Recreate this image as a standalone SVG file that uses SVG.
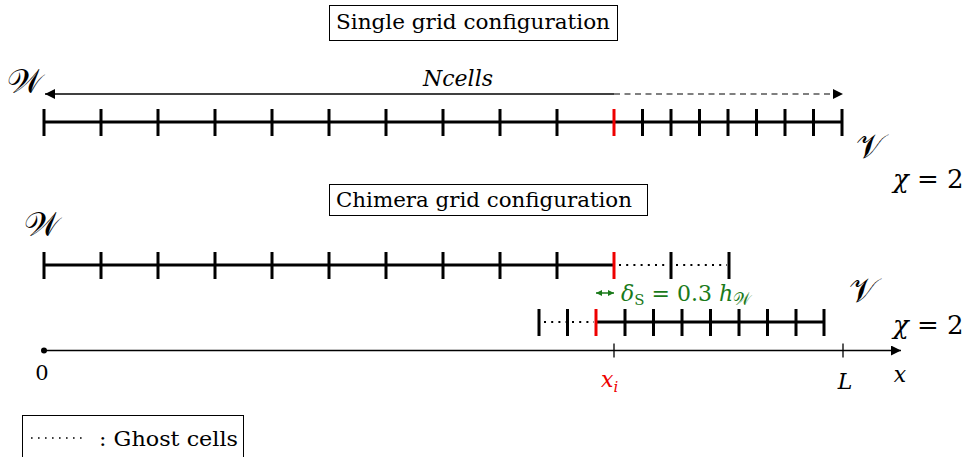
<svg xmlns="http://www.w3.org/2000/svg" width="976" height="457" viewBox="0 0 976 457">
<style>
.t{font-family:'DejaVu Serif','Liberation Serif',serif;font-size:21px;fill:#000}
.m{font-family:'DejaVu Serif','Liberation Serif',serif;font-style:italic;font-size:22px;fill:#000}
.cal{font-family:'DejaVu Serif','Liberation Serif',serif;font-size:34px;fill:#000}
.chi{font-family:'DejaVu Serif','Liberation Serif',serif;font-size:26px;fill:#000}
.bar{stroke:#000;stroke-width:3;fill:none}
.red{stroke:#e00;stroke-width:3;fill:none}
.dot{stroke:#000;stroke-width:2;stroke-dasharray:2 5.2;fill:none}
.thin{stroke:#000;stroke-width:1.3;fill:none}
.box{fill:#fff;stroke:#000;stroke-width:1}
</style>
<defs>
<marker id="ah" viewBox="0 0 10 10" refX="10" refY="5" markerWidth="14" markerHeight="10" markerUnits="userSpaceOnUse" orient="auto-start-reverse">
<path d="M0,0 L10,5 L0,10 z" fill="#000"/>
</marker>
<marker id="gh" viewBox="0 0 10 10" refX="10" refY="5" markerWidth="7" markerHeight="6" markerUnits="userSpaceOnUse" orient="auto-start-reverse">
<path d="M0,0 L10,5 L0,10 z" fill="#1a7a1a"/>
</marker>
</defs>

<g id="single-title">
<rect class="box" x="329.5" y="5.5" width="288" height="35"/>
<text class="t" x="336" y="29" textLength="274" lengthAdjust="spacingAndGlyphs">Single grid configuration</text>
</g>

<g id="single-grid">
<path class="bar" d="M44,122 H843 M44,109 V136 M101,109 V136 M158,109 V136 M215,109 V136 M272,109 V136 M329,109 V136 M386,109 V136 M443,109 V136 M500,109 V136 M557,109 V136 M642.5,109 V136 M671,109 V136 M699.5,109 V136 M728,109 V136 M756.5,109 V136 M785,109 V136 M813.5,109 V136 M842,109 V136"/>
<path class="red" d="M614,109 V136"/>
<text class="cal" x="7" y="93">𝒲</text>
<text class="cal" x="856" y="158">𝒱</text>
<text class="chi" x="893" y="188"><tspan font-style="italic">χ</tspan> = 2</text>
</g>

<g id="connectors">
<path class="thin" d="M614,94 H45" marker-end="url(#ah)" stroke-width="1.2"/>
<path d="M614,94 H843" stroke="#000" stroke-width="1.2" stroke-dasharray="6 4.5" fill="none" marker-end="url(#ah)"/>
<text class="m" x="458" y="86" text-anchor="middle">Ncells</text>
</g>

<g id="chimera-title">
<rect class="box" x="329.5" y="184.5" width="318" height="31"/>
<text class="t" x="336" y="207" textLength="296" lengthAdjust="spacingAndGlyphs">Chimera grid configuration</text>
</g>

<g id="grid-W">
<path class="bar" d="M44,265 H614 M44,252 V279 M101,252 V279 M158,252 V279 M215,252 V279 M272,252 V279 M329,252 V279 M386,252 V279 M443,252 V279 M500,252 V279 M557,252 V279 M671,252 V279 M729,252 V279"/>
<path class="dot" d="M619,265 H669 M676,265 H727"/>
<path class="red" d="M614,252 V279"/>
<text class="cal" x="24" y="236">𝒲</text>
</g>

<g id="delta">
<path d="M596,293 H614" stroke="#1a7a1a" stroke-width="1.5" fill="none" marker-start="url(#gh)" marker-end="url(#gh)"/>
<text x="621" y="301" font-family="'DejaVu Serif','Liberation Serif',serif" font-size="22" fill="#1a7a1a"><tspan font-style="italic">δ</tspan><tspan font-size="15" dy="4">S</tspan><tspan dy="-4"> = 0.3 </tspan><tspan font-style="italic">h</tspan><tspan font-size="17" dy="4">𝒲</tspan></text>
</g>

<g id="grid-V">
<path class="bar" d="M596,322 H824 M539,309 V336 M567.5,309 V336 M625,309 V336 M653.5,309 V336 M682,309 V336 M710.5,309 V336 M739,309 V336 M767.5,309 V336 M796,309 V336 M824,309 V336"/>
<path class="dot" d="M544,322 H566 M572,322 H594"/>
<path class="red" d="M596,309 V336"/>
<text class="cal" x="849" y="302">𝒱</text>
<text class="chi" x="893" y="334"><tspan font-style="italic">χ</tspan> = 2</text>
</g>

<g id="axis">
<circle cx="44" cy="350.5" r="3" fill="#000"/>
<path class="thin" d="M44,350.5 H901" marker-end="url(#ah)" stroke-width="1.3"/>
<path class="thin" d="M614,343.5 V357.5 M843,343.5 V357.5" stroke-width="1"/>
<text class="t" x="42" y="380" text-anchor="middle">0</text>
<text class="m" x="601" y="387" style="fill:#e00">x<tspan font-size="15" dy="5">i</tspan></text>
<text class="m" x="845" y="389" text-anchor="middle">L</text>
<text class="m" x="900" y="382" text-anchor="middle">x</text>
</g>

<g id="legend">
<rect class="box" x="22.5" y="415.5" width="221" height="50"/>
<path d="M31,438 H85" stroke="#000" stroke-width="1.6" stroke-dasharray="1.6 5.4" fill="none"/>
<text class="t" x="99" y="446" textLength="139" lengthAdjust="spacingAndGlyphs">: Ghost cells</text>
</g>
</svg>
